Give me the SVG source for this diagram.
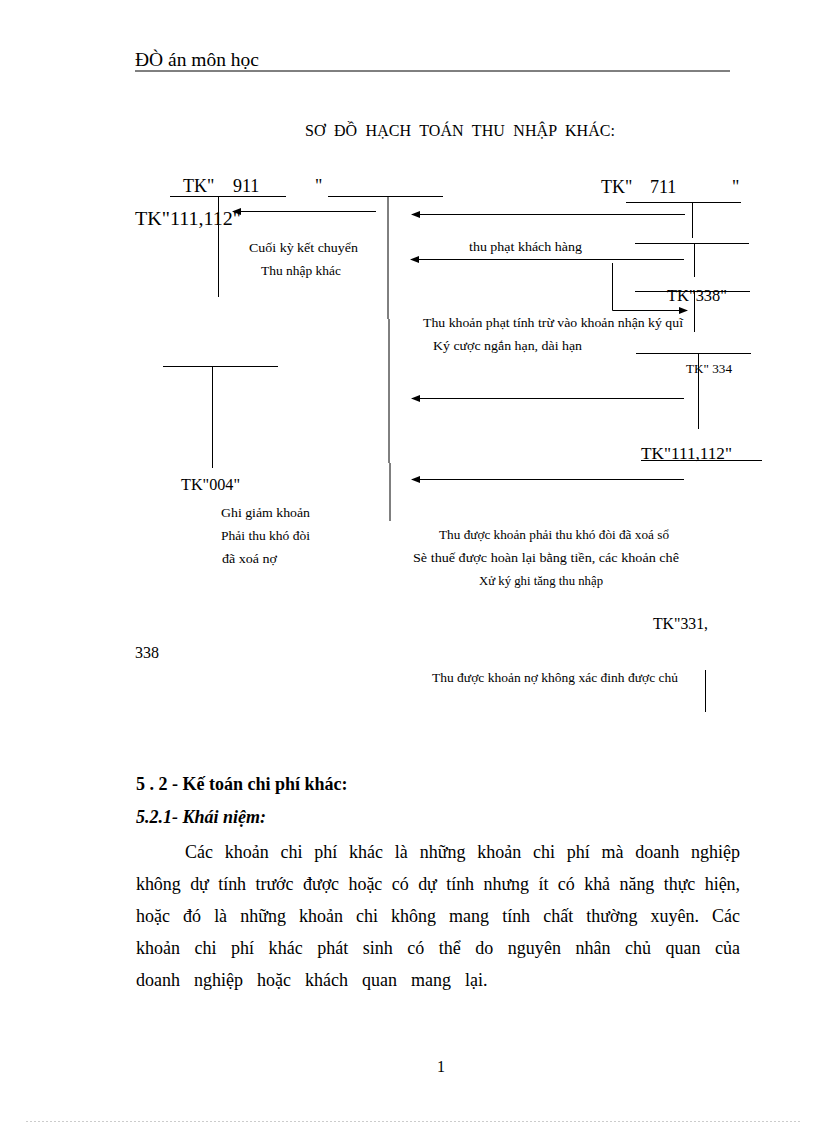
<svg xmlns="http://www.w3.org/2000/svg" width="816" height="1123" viewBox="0 0 816 1123">
<defs>
<marker id="ah" markerWidth="9" markerHeight="7" refX="8" refY="3.5" orient="auto" markerUnits="userSpaceOnUse">
<path d="M0,0 L9,3.5 L0,7 Z" fill="#000"/>
</marker>
<style>
text{font-family:"Liberation Serif","Times New Roman",serif;fill:#000}
.s{font-size:13px}
.m{font-size:16px}
.l{font-size:18px}
.b{font-size:18px}
.ln{stroke:#000;stroke-width:1;fill:none}
.ar{stroke:#000;stroke-width:1;fill:none;marker-end:url(#ah)}
</style>
</defs>
<rect width="816" height="1123" fill="#fff"/>
<g id="header">
<text class="b" x="135" y="66" textLength="124" lengthAdjust="spacingAndGlyphs">ĐÒ án môn học</text>
<line class="ln" x1="135" y1="71" x2="730" y2="71"/>
</g>
<g id="title">
<text x="305" y="136" font-size="16" word-spacing="4.3" textLength="310" lengthAdjust="spacing">SƠ ĐỒ HẠCH TOÁN THU NHẬP KHÁC:</text>
</g>
<g id="tk911">
<text class="l" y="192"><tspan x="183">TK"</tspan><tspan x="233">911</tspan><tspan x="315">"</tspan></text>
<line class="ln" x1="170" y1="196.5" x2="286" y2="196.5"/>
<line class="ln" x1="328" y1="196.5" x2="443" y2="196.5"/>
<line class="ln" x1="218.5" y1="196" x2="218.5" y2="297"/>
<path class="ln" d="M388,196 V319 M389,319 V463 M390,463 V521"/>
</g>
<g id="tk111left">
<text class="b" x="135" y="225" textLength="106" lengthAdjust="spacingAndGlyphs">TK"111,112"</text>
<text class="s" x="249" y="252" textLength="109" lengthAdjust="spacingAndGlyphs">Cuối kỳ kết chuyển</text>
<text class="s" x="261" y="275" textLength="80" lengthAdjust="spacingAndGlyphs">Thu nhập khác</text>
</g>
<g id="tk004">
<line class="ln" x1="163" y1="366.5" x2="278" y2="366.5"/>
<line class="ln" x1="212.5" y1="366" x2="212.5" y2="468"/>
<text class="m" x="181" y="490" textLength="59" lengthAdjust="spacingAndGlyphs">TK"004"</text>
<text class="s" x="221" y="517" textLength="89" lengthAdjust="spacingAndGlyphs">Ghi giảm khoản</text>
<text class="s" x="221" y="540" textLength="89" lengthAdjust="spacingAndGlyphs">Phải thu khó đòi</text>
<text class="s" x="222" y="563" textLength="55" lengthAdjust="spacingAndGlyphs">đã xoá nợ</text>
</g>
<g id="tk711">
<text class="l" y="193"><tspan x="601">TK"</tspan><tspan x="650">711</tspan><tspan x="732">"</tspan></text>
<line class="ln" x1="626" y1="202.5" x2="741" y2="202.5"/>
<line class="ln" x1="692.5" y1="202" x2="692.5" y2="238"/>
</g>
<g id="tk711b">
<line class="ln" x1="635" y1="243.5" x2="749" y2="243.5"/>
<line class="ln" x1="694.5" y1="243" x2="694.5" y2="277"/>
<text class="s" x="469" y="251" textLength="113" lengthAdjust="spacingAndGlyphs">thu phạt khách hàng</text>
</g>
<g id="tk338">
<line class="ln" x1="635" y1="291.5" x2="750" y2="291.5"/>
<text class="m" x="667" y="301" textLength="60" lengthAdjust="spacingAndGlyphs">TK"338"</text>
<line class="ln" x1="694.5" y1="291" x2="694.5" y2="332"/>
<text class="s" x="423" y="327" textLength="260" lengthAdjust="spacingAndGlyphs">Thu khoản phạt tính trừ vào khoản nhận ký quĩ</text>
<text class="s" x="433" y="350" textLength="149" lengthAdjust="spacingAndGlyphs">Ký cược ngắn hạn, dài hạn</text>
</g>
<g id="tk334">
<line class="ln" x1="636" y1="353.5" x2="751" y2="353.5"/>
<line class="ln" x1="698.5" y1="353" x2="698.5" y2="429"/>
<text x="686" y="373" font-size="13" textLength="46" lengthAdjust="spacingAndGlyphs">TK" 334</text>
</g>
<g id="tk111right">
<text class="m" x="641" y="459" textLength="91" lengthAdjust="spacingAndGlyphs">TK"111,112"</text>
<line class="ln" x1="641" y1="460.5" x2="762" y2="460.5"/>
<text class="s" x="439" y="539" textLength="230" lengthAdjust="spacingAndGlyphs">Thu được khoản phải thu khó đòi đã xoá sổ</text>
<text class="s" x="413" y="562" textLength="266" lengthAdjust="spacingAndGlyphs">Sè thuế được hoàn lại bằng tiền, các khoản chê</text>
<text class="s" x="479" y="585" textLength="124" lengthAdjust="spacingAndGlyphs">Xử ký ghi tăng thu nhập</text>
</g>
<g id="tk331">
<text class="m" x="653" y="629" textLength="55" lengthAdjust="spacingAndGlyphs">TK"331,</text>
<text class="m" x="135" y="658">338</text>
<text class="s" x="432" y="682" textLength="246" lengthAdjust="spacingAndGlyphs">Thu được khoản nợ không xác  đinh được chủ</text>
<line class="ln" x1="705.5" y1="670" x2="705.5" y2="712"/>
</g>
<g id="connectors">
<line class="ar" x1="376" y1="211.5" x2="233" y2="211.5"/>
<line class="ar" x1="685" y1="214.5" x2="412" y2="214.5"/>
<line class="ar" x1="684" y1="259.5" x2="411" y2="259.5"/>
<path class="ar" d="M612.5,263 V310.5 H687"/>
<line class="ar" x1="684" y1="398.5" x2="412" y2="398.5"/>
<line class="ar" x1="684" y1="479.5" x2="412" y2="479.5"/>
</g>
<g id="section">
<text class="b" x="136" y="790" font-weight="bold">5 . 2 - Kế toán chi phí khác:</text>
<text class="b" x="136" y="823" font-weight="bold" font-style="italic">5.2.1- Khái niệm:</text>
<text class="b" x="185" y="858" word-spacing="7.3" textLength="555" lengthAdjust="spacing">Các khoản chi phí khác là những khoản chi phí mà doanh nghiệp</text>
<text class="b" x="136" y="890" word-spacing="5.1" textLength="604" lengthAdjust="spacing">không dự tính trước được hoặc có dự tính nhưng ít có khả năng thực hiện,</text>
<text class="b" x="136" y="922" word-spacing="8.7" textLength="604" lengthAdjust="spacing">hoặc đó là những khoản chi không mang tính chất thường xuyên. Các</text>
<text class="b" x="136" y="954" word-spacing="10" textLength="604" lengthAdjust="spacing">khoản chi phí khác phát sinh có thể do nguyên nhân chủ quan của</text>
<text class="b" x="136" y="986" word-spacing="9.5">doanh nghiệp hoặc khách quan mang lại.</text>
</g>
<g id="footer">
<text class="m" x="437" y="1072">1</text>
<line x1="26" y1="1121.5" x2="800" y2="1121.5" stroke="#ccc" stroke-width="1" stroke-dasharray="2,2"/>
</g>
</svg>
